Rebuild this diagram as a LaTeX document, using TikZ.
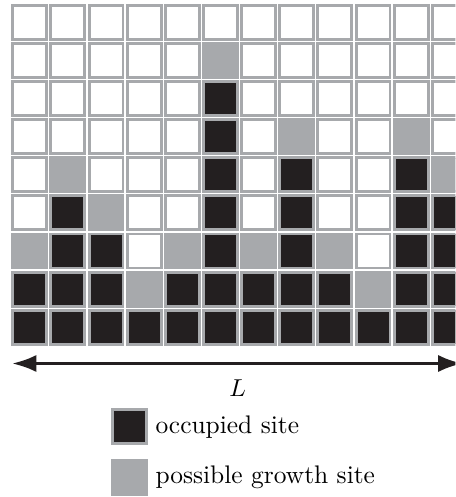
\documentclass[tikz,border=0pt]{standalone}
\usepackage{amsmath,amssymb}
\usepackage{tikz}
\usetikzlibrary{positioning,arrows.meta}

\definecolor{sitegray}{RGB}{167,169,172}
\definecolor{siteblack}{RGB}{35,31,32}

\begin{document}
\begin{tikzpicture}[x=15.6pt, y=15.6pt,
  site/.style={rectangle, draw=sitegray, line width=1.2pt, minimum size=13.9pt, inner sep=0pt},
  occsite/.style={site, fill=siteblack},
  growsite/.style={site, fill=sitegray},
  vacsite/.style={site, fill=white},
  keytext/.style={font=\fontsize{10.4}{12.5}\selectfont, inner sep=3pt},
  axis/.style={line width=1.5pt, draw=siteblack, {Latex[length=10pt,width=7pt]}-{Latex[length=10pt,width=7pt]}}]
\clip (-0.28,-3.95) rectangle (11.66,9.08);

% lattice, bottom row first
\foreach \row [count=\y from 0] in {
  {occsite,occsite,occsite,occsite,occsite,occsite,occsite,occsite,occsite,occsite,occsite,occsite},
  {occsite,occsite,occsite,growsite,occsite,occsite,occsite,occsite,occsite,growsite,occsite,occsite},
  {growsite,occsite,occsite,vacsite,growsite,occsite,growsite,occsite,growsite,vacsite,occsite,occsite},
  {vacsite,occsite,growsite,vacsite,vacsite,occsite,vacsite,occsite,vacsite,vacsite,occsite,occsite},
  {vacsite,growsite,vacsite,vacsite,vacsite,occsite,vacsite,occsite,vacsite,vacsite,occsite,growsite},
  {vacsite,vacsite,vacsite,vacsite,vacsite,occsite,vacsite,growsite,vacsite,vacsite,growsite,vacsite},
  {vacsite,vacsite,vacsite,vacsite,vacsite,occsite,vacsite,vacsite,vacsite,vacsite,vacsite,vacsite},
  {vacsite,vacsite,vacsite,vacsite,vacsite,growsite,vacsite,vacsite,vacsite,vacsite,vacsite,vacsite},
  {vacsite,vacsite,vacsite,vacsite,vacsite,vacsite,vacsite,vacsite,vacsite,vacsite,vacsite,vacsite}}
{
  \foreach \s [count=\x from 0] in \row {
    \node[\s] (s-\x-\y) at (\x+0.5,\y+0.5) {};
  }
}

% width of the lattice
\coordinate (lend) at (0.03,-0.45);
\coordinate (rend) at (11.85,-0.45);
\draw[axis] (lend) -- (rend);
\node[keytext] (len) at (5.95,-1.1) {$L$};

% legend
\node[occsite] (keyocc) at (3.11,-2.11) {};
\node[keytext, right=0pt of keyocc] (txtocc) {occupied site};
\node[growsite] (keygrow) at (3.11,-3.43) {};
\node[keytext, right=0pt of keygrow] (txtgrow) {possible growth site};
\end{tikzpicture}
\end{document}
